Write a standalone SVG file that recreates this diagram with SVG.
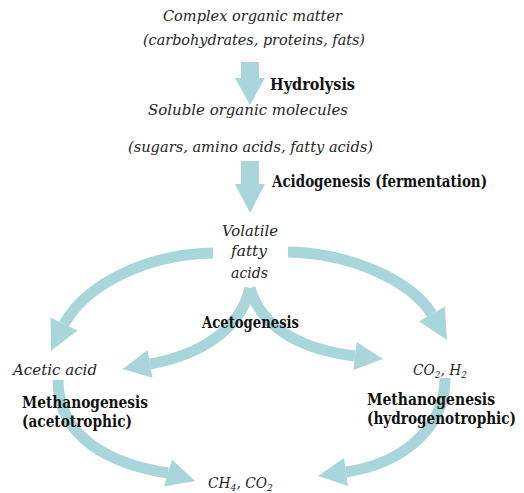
<svg xmlns="http://www.w3.org/2000/svg" width="524" height="493" viewBox="0 0 524 493">
<style>
text{font-family:'DejaVu Serif Condensed','DejaVu Serif',serif;}
.it{font-style:italic;font-size:15px;fill:#262626;}
.bd{font-weight:bold;font-size:16px;fill:#111;}
.arc{fill:none;stroke:#a8d6db;stroke-width:11;}
.hd{fill:#a8d6db;}
</style>
<rect width="524" height="493" fill="#fff"/>
<g id="connectors">
  <rect class="hd" x="241" y="62" width="18" height="17"/>
  <polygon class="hd" points="235,78 265,78 250,105"/>
  <rect class="hd" x="241" y="161" width="18" height="24"/>
  <polygon class="hd" points="235,184 265,184 250,213"/>
  <path class="arc" d="M213,253 C150,254 88,282 64,324"/>
  <polygon class="hd" points="77.5,330.5 50.5,317.5 51,351"/>
  <path class="arc" d="M288,252 C350,253 410,280 432,314"/>
  <polygon class="hd" points="444.9,306.4 419.1,321.6 447,340"/>
  <path class="arc" d="M250,288 C240,330 200,355 150,364"/>
  <polygon class="hd" points="152.5,377.7 147.5,350.3 122.5,369"/>
  <path class="arc" d="M250,288 C262,330 305,350 355,356"/>
  <polygon class="hd" points="353.3,369.9 356.7,342.1 383,359"/>
  <path class="arc" d="M58,380 C58,440 115,465 168,473"/>
  <polygon class="hd" points="164,486.4 172,459.6 195,481"/>
  <path class="arc" d="M445,378 C445,430 400,464 346,472"/>
  <polygon class="hd" points="348,486 344,458 318,476"/>
</g>
<g id="complex">
  <text class="it" x="163" y="21" textLength="179" lengthAdjust="spacingAndGlyphs">Complex organic matter</text>
  <text class="it" x="143" y="45" textLength="222" lengthAdjust="spacingAndGlyphs">(carbohydrates, proteins, fats)</text>
</g>
<g id="hydrolysis"><text class="bd" x="270" y="90" textLength="85" lengthAdjust="spacingAndGlyphs">Hydrolysis</text></g>
<g id="soluble">
  <text class="it" x="148" y="115" textLength="200" lengthAdjust="spacingAndGlyphs">Soluble organic molecules</text>
  <text class="it" x="128" y="152" textLength="245" lengthAdjust="spacingAndGlyphs">(sugars, amino acids, fatty acids)</text>
</g>
<g id="acidogenesis"><text class="bd" x="272" y="187" textLength="215" lengthAdjust="spacingAndGlyphs">Acidogenesis (fermentation)</text></g>
<g id="vfa">
  <text class="it" x="222" y="236" textLength="56" lengthAdjust="spacingAndGlyphs">Volatile</text>
  <text class="it" x="231" y="256" textLength="36" lengthAdjust="spacingAndGlyphs">fatty</text>
  <text class="it" x="231" y="278" textLength="37" lengthAdjust="spacingAndGlyphs">acids</text>
</g>
<g id="acetogenesis"><text class="bd" x="202" y="328" textLength="97" lengthAdjust="spacingAndGlyphs">Acetogenesis</text></g>
<g id="acetic"><text class="it" x="13" y="375" textLength="84" lengthAdjust="spacingAndGlyphs">Acetic acid</text></g>
<g id="co2h2"><text class="it" x="413" y="375" textLength="54" lengthAdjust="spacingAndGlyphs">CO<tspan font-size="10" dy="3">2</tspan><tspan dy="-3">, H</tspan><tspan font-size="10" dy="3">2</tspan></text></g>
<g id="meth-aceto">
  <text class="bd" x="22" y="408" textLength="126" lengthAdjust="spacingAndGlyphs">Methanogenesis</text>
  <text class="bd" x="22" y="427" textLength="110" lengthAdjust="spacingAndGlyphs">(acetotrophic)</text>
</g>
<g id="meth-hydro">
  <text class="bd" x="367" y="405" textLength="128" lengthAdjust="spacingAndGlyphs">Methanogenesis</text>
  <text class="bd" x="367" y="424" textLength="149" lengthAdjust="spacingAndGlyphs">(hydrogenotrophic)</text>
</g>
<g id="ch4co2"><text class="it" x="208" y="488" textLength="65" lengthAdjust="spacingAndGlyphs">CH<tspan font-size="10" dy="3">4</tspan><tspan dy="-3">, CO</tspan><tspan font-size="10" dy="3">2</tspan></text></g>
</svg>
